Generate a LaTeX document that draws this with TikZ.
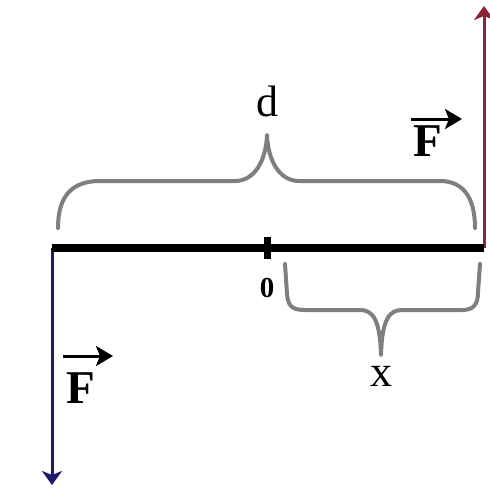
\documentclass[tikz,border=0pt]{standalone}
\usepackage{fontspec}
\setmainfont{Liberation Serif}
\usetikzlibrary{arrows.meta}
\definecolor{fred}{HTML}{8E2236}
\definecolor{fblue}{HTML}{1C1A6E}
\definecolor{bracegray}{HTML}{7F7F7F}
\begin{document}
\begin{tikzpicture}[x=1pt,y=-1pt,
  brace/.style={draw=bracegray,line width=4pt,line cap=round,line join=round},
  force/.style={line width=3pt,-{Stealth[length=14pt,width=20pt,inset=4pt]}},
  vecarrow/.style={line width=3pt,-{Stealth[length=17pt,width=20pt,inset=4pt]}},
  lbl/.style={inner sep=0pt,font=\fontsize{44}{44}\selectfont}]
\fill[white] (0,0) rectangle (490,488);
\useasboundingbox (0,0) rectangle (490,488);
\coordinate (A) at (52,248);
\coordinate (B) at (484,248);
\coordinate (O) at (267,248);
\coordinate (Ftop) at (484,6);
\coordinate (Fbot) at (52,485);
% forces
\draw[force,fred] (B) -- (Ftop);
\draw[force,fblue] (A) -- (Fbot);
% bar
\draw[line width=8pt] (A) -- (B);
\draw[line width=7pt] ([yshift=-11pt]O) -- ([yshift=11pt]O);
\node[inner sep=0pt,font=\bfseries\fontsize{29}{29}\selectfont] (zero) at (267,288) {0};
% top brace
\draw[brace] (58,228) .. controls (58,196) and (72,181) .. (100,181)
  -- (235,181) .. controls (255,181) and (266,160) .. (267,135)
  .. controls (268,160) and (279,181) .. (299,181)
  -- (440,181) .. controls (462,181) and (475,196) .. (475,228);
\node[lbl] (d) at (267,101) {d};
% bottom brace
\draw[brace] (285,264) -- (287,294) .. controls (288,306) and (292,310) .. (305,310)
  -- (360,310) .. controls (372,310) and (380,318) .. (381,355)
  .. controls (382,318) and (390,310) .. (402,310)
  -- (462,310) .. controls (474,310) and (478,304) .. (478,292) -- (480,264);
\node[lbl] (x) at (381,376) {x};
% F labels
\node[lbl,font=\bfseries\fontsize{47}{47}\selectfont] (F1) at (81,388) {F};
\draw[vecarrow] (63,356) -- (113,356);
\node[lbl,font=\bfseries\fontsize{47}{47}\selectfont] (F2) at (428,141) {F};
\draw[vecarrow] (411,119) -- (462,119);
\end{tikzpicture}
\end{document}
